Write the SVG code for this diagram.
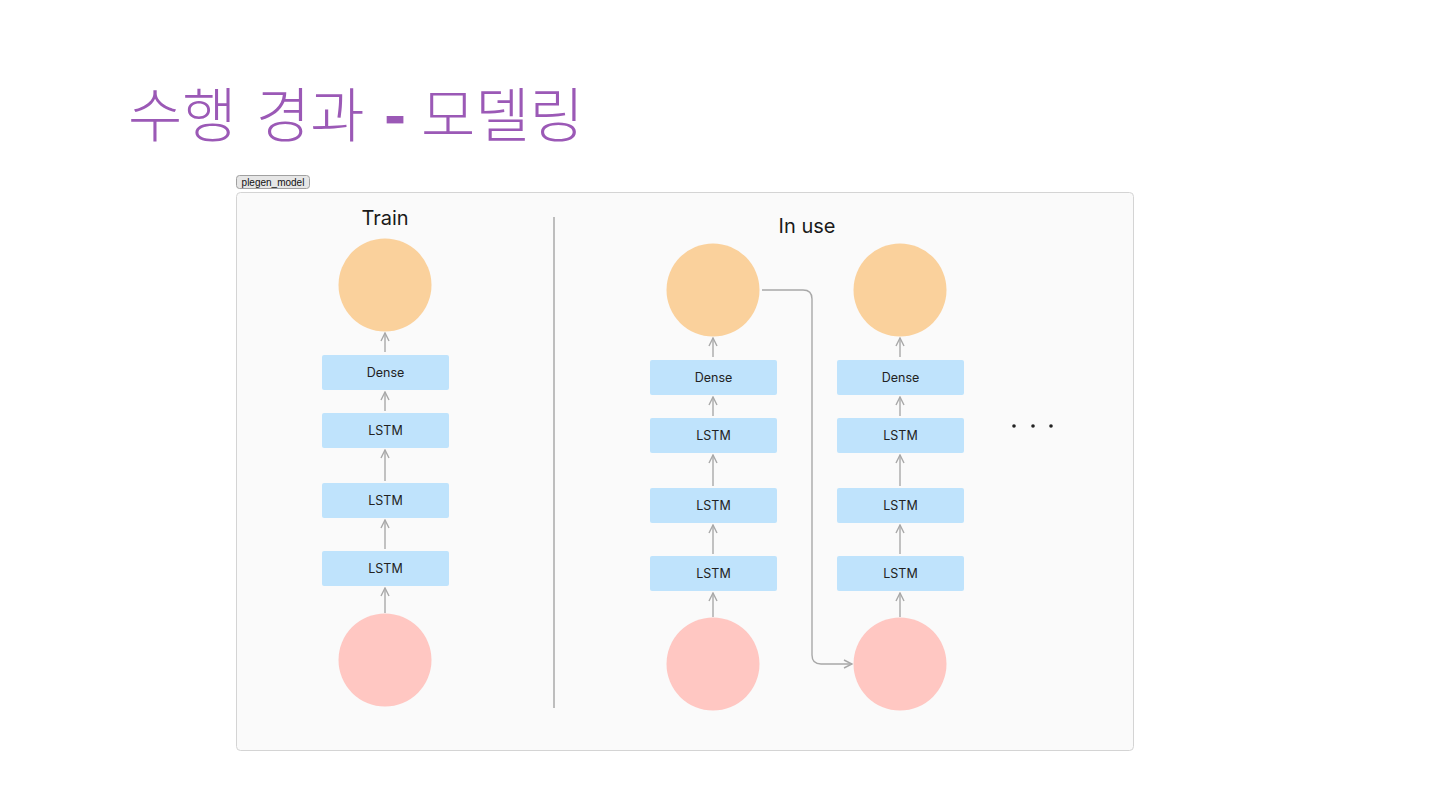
<svg xmlns="http://www.w3.org/2000/svg" width="1440" height="810" viewBox="0 0 1440 810">
<defs>
<marker id="ah" viewBox="0 0 10 10" refX="9" refY="5" markerWidth="10" markerHeight="10" markerUnits="userSpaceOnUse" orient="auto">
<path d="M1,1 L9,5 L1,9" fill="none" stroke="#a8a8a8" stroke-width="1.4"/>
</marker>
<style>
.title{font-family:"Noto Sans CJK KR","Noto Sans",sans-serif;font-size:59px;font-weight:300;fill:#9b59b6}
.dash{font-weight:900}
.hdr{font-family:Inter,"Liberation Sans",sans-serif;font-size:20px;fill:#1a1a1a;text-anchor:middle}
.lbl{font-family:Inter,"Liberation Sans",sans-serif;font-size:12.5px;fill:#222;text-anchor:middle;dominant-baseline:central}
.box{fill:#bfe3fc}
.out{fill:#fad19c}
.inp{fill:#ffc7c2}
.arr{stroke:#a8a8a8;stroke-width:1.4;fill:none;marker-end:url(#ah)}
</style>
</defs>
<rect width="1440" height="810" fill="#ffffff"/>
<g id="title">
<text class="title" x="128" y="137">수행</text>
<text class="title" x="256" y="137">경과</text>
<text class="title dash" x="395" y="137" text-anchor="middle">-</text>
<text class="title" x="421" y="137">모델링</text>
</g>
<g id="tag">
<rect x="236.5" y="175.5" width="73" height="13" rx="3" fill="#e6e6e6" stroke="#a0a0a0" stroke-width="1"/>
<text x="273" y="185.5" font-family="'Liberation Sans',Arial,sans-serif" font-size="10" fill="#111" text-anchor="middle">plegen_model</text>
</g>
<rect id="panel" x="236.5" y="192.5" width="897" height="558" rx="4" fill="#fafafa" stroke="#d4d4d4" stroke-width="1"/>
<line id="divider" x1="554" y1="217" x2="554" y2="708" stroke="#a8a8a8" stroke-width="1.5"/>
<text class="hdr" x="385" y="225">Train</text>
<text class="hdr" x="807" y="233">In use</text>

<g id="connectors">
<line class="arr" x1="385" y1="352" x2="385" y2="333"/>
<line class="arr" x1="385" y1="411" x2="385" y2="392"/>
<line class="arr" x1="385" y1="481" x2="385" y2="450"/>
<line class="arr" x1="385" y1="549" x2="385" y2="520"/>
<line class="arr" x1="385" y1="613" x2="385" y2="588"/>

<line class="arr" x1="713" y1="357" x2="713" y2="338"/>
<line class="arr" x1="713" y1="416" x2="713" y2="397"/>
<line class="arr" x1="713" y1="486" x2="713" y2="455"/>
<line class="arr" x1="713" y1="554" x2="713" y2="525"/>
<line class="arr" x1="713" y1="617" x2="713" y2="593"/>

<line class="arr" x1="900" y1="357" x2="900" y2="338"/>
<line class="arr" x1="900" y1="416" x2="900" y2="397"/>
<line class="arr" x1="900" y1="486" x2="900" y2="455"/>
<line class="arr" x1="900" y1="554" x2="900" y2="525"/>
<line class="arr" x1="900" y1="617" x2="900" y2="593"/>

<path class="arr" d="M762,290 H803 Q812,290 812,299 V655 Q812,664 821,664 H852"/>
</g>

<g id="train-out"><circle class="out" cx="385" cy="285" r="46.5"/></g>
<g id="train-dense"><rect class="box" x="322" y="355" width="127" height="35" rx="2"/><text class="lbl" x="385.5" y="372.5">Dense</text></g>
<g id="train-lstm3"><rect class="box" x="322" y="413" width="127" height="35" rx="2"/><text class="lbl" x="385.5" y="430.5">LSTM</text></g>
<g id="train-lstm2"><rect class="box" x="322" y="483" width="127" height="35" rx="2"/><text class="lbl" x="385.5" y="500.5">LSTM</text></g>
<g id="train-lstm1"><rect class="box" x="322" y="551" width="127" height="35" rx="2"/><text class="lbl" x="385.5" y="568.5">LSTM</text></g>
<g id="train-in"><circle class="inp" cx="385" cy="660" r="46.5"/></g>

<g id="use1-out"><circle class="out" cx="713" cy="290" r="46.5"/></g>
<g id="use1-dense"><rect class="box" x="650" y="360" width="127" height="35" rx="2"/><text class="lbl" x="713.5" y="377.5">Dense</text></g>
<g id="use1-lstm3"><rect class="box" x="650" y="418" width="127" height="35" rx="2"/><text class="lbl" x="713.5" y="435.5">LSTM</text></g>
<g id="use1-lstm2"><rect class="box" x="650" y="488" width="127" height="35" rx="2"/><text class="lbl" x="713.5" y="505.5">LSTM</text></g>
<g id="use1-lstm1"><rect class="box" x="650" y="556" width="127" height="35" rx="2"/><text class="lbl" x="713.5" y="573.5">LSTM</text></g>
<g id="use1-in"><circle class="inp" cx="713" cy="664" r="46.5"/></g>

<g id="use2-out"><circle class="out" cx="900" cy="290" r="46.5"/></g>
<g id="use2-dense"><rect class="box" x="837" y="360" width="127" height="35" rx="2"/><text class="lbl" x="900.5" y="377.5">Dense</text></g>
<g id="use2-lstm3"><rect class="box" x="837" y="418" width="127" height="35" rx="2"/><text class="lbl" x="900.5" y="435.5">LSTM</text></g>
<g id="use2-lstm2"><rect class="box" x="837" y="488" width="127" height="35" rx="2"/><text class="lbl" x="900.5" y="505.5">LSTM</text></g>
<g id="use2-lstm1"><rect class="box" x="837" y="556" width="127" height="35" rx="2"/><text class="lbl" x="900.5" y="573.5">LSTM</text></g>
<g id="use2-in"><circle class="inp" cx="900" cy="664" r="46.5"/></g>

<g id="ellipsis" fill="#222">
<circle cx="1014" cy="426" r="1.8"/><circle cx="1033" cy="426" r="1.8"/><circle cx="1051" cy="426" r="1.8"/>
</g>
</svg>
